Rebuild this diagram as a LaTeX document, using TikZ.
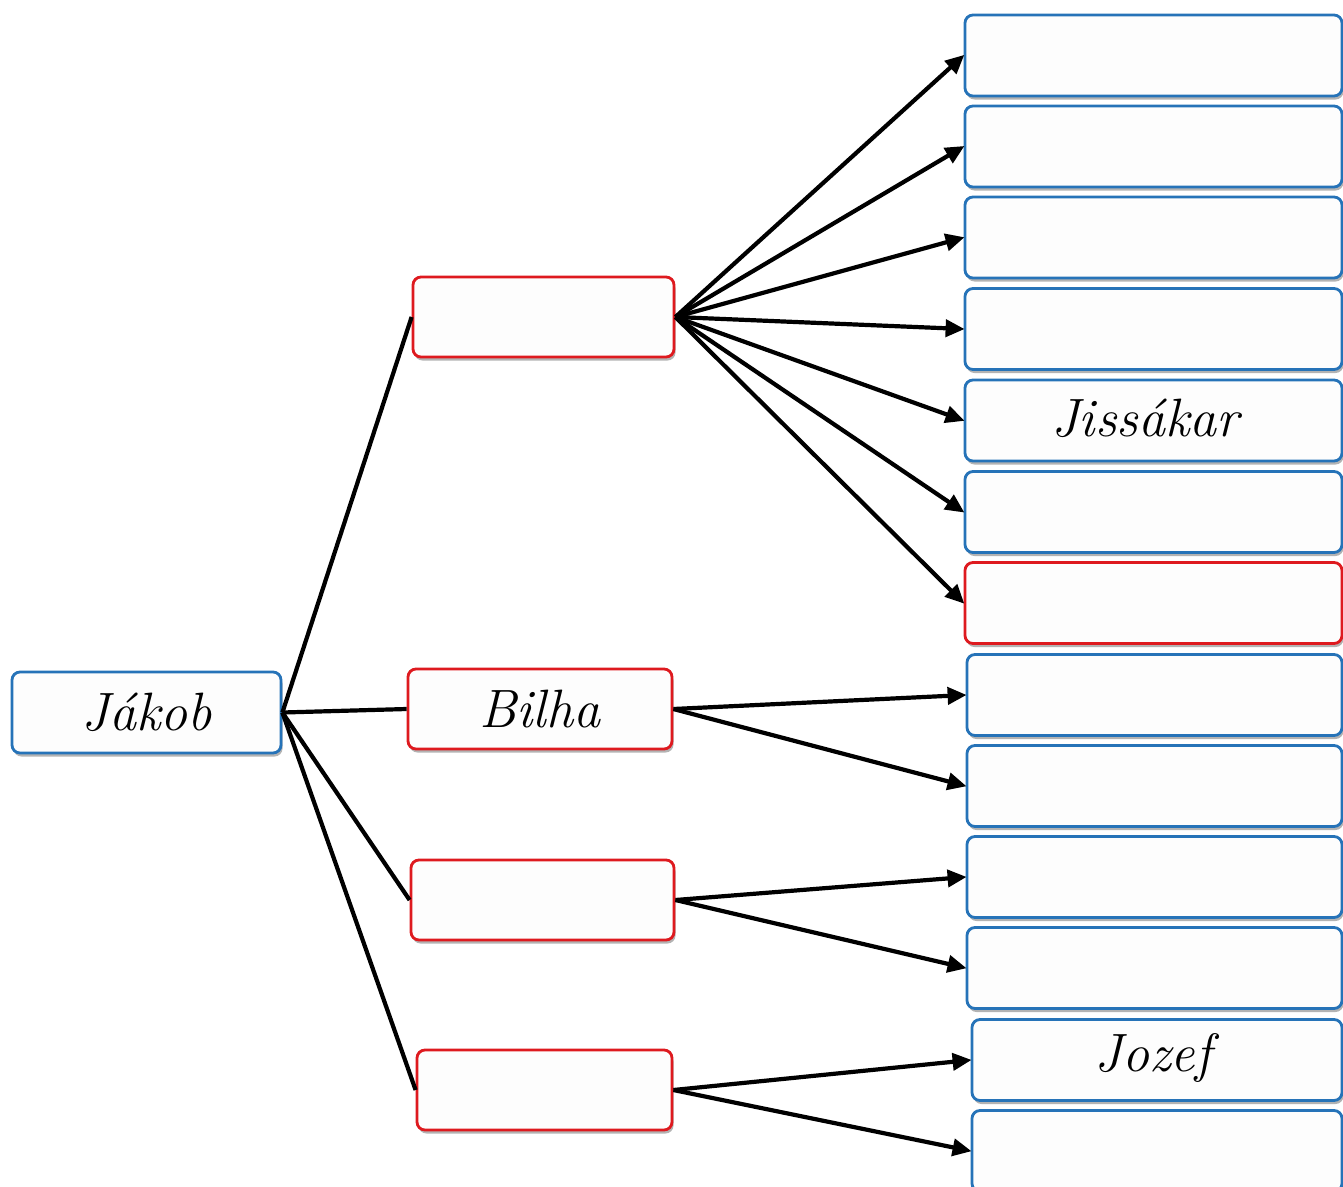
\documentclass[tikz,border=0pt]{standalone}
\usetikzlibrary{arrows.meta,shadows}
\definecolor{bblue}{HTML}{2673B8}
\definecolor{bred}{HTML}{DE1A1F}
\definecolor{bfill}{HTML}{FDFDFD}
\tikzset{
  x=1pt,y=-1pt,
  lbl/.style={font=\fontsize{54}{60}\selectfont\itshape},
  box/.style={draw, line width=2.8pt, rounded corners=8pt, fill=bfill,
    drop shadow={shadow xshift=1.5pt, shadow yshift=-3.5pt, opacity=0.4, fill=black!75},
    inner sep=0pt, lbl},
  bluebox/.style={box, draw=bblue},
  redbox/.style={box, draw=bred},
  midbox/.style={minimum height=80pt},
  rightbox/.style={minimum height=81pt},
  link/.style={line width=4.2pt, black},
  arr/.style={link, -{Triangle[length=19pt,width=17pt]}, shorten >=-1pt},
}
\begin{document}
\begin{tikzpicture}
\useasboundingbox (0,0) rectangle (1343,1186);
\clip (0,0) rectangle (1343,1186);
% root
\node[bluebox, minimum width=269pt, minimum height=81pt] (jakob) at (146.5,712.5) {J\'akob};
% middle column
\node[redbox, midbox, minimum width=261pt] (m1) at (543.5,317) {};
\node[redbox, midbox, minimum width=264pt] (bilha) at (540,709) {Bilha};
\node[redbox, midbox, minimum width=263pt] (m3) at (542.5,900) {};
\node[redbox, midbox, minimum width=255pt] (m4) at (544.5,1090) {};
% right column
\node[bluebox, rightbox, minimum width=377pt] (r1) at (1153.5,55.5) {};
\node[bluebox, rightbox, minimum width=377pt] (r2) at (1153.5,146.5) {};
\node[bluebox, rightbox, minimum width=377pt] (r3) at (1153.5,237.5) {};
\node[bluebox, rightbox, minimum width=377pt] (r4) at (1153.5,329) {};
\node[bluebox, rightbox, minimum width=377pt] (r5) at (1153.5,420.5) {};
\node[bluebox, rightbox, minimum width=377pt] (r6) at (1153.5,512) {};
\node[redbox, rightbox, minimum width=377pt] (r7) at (1153.5,603) {};
\node[bluebox, rightbox, minimum width=375pt] (r8) at (1154.5,695) {};
\node[bluebox, rightbox, minimum width=375pt] (r9) at (1154.5,786) {};
\node[bluebox, rightbox, minimum width=375pt] (r10) at (1154.5,877) {};
\node[bluebox, rightbox, minimum width=375pt] (r11) at (1154.5,968) {};
\node[bluebox, rightbox, minimum width=370pt] (r12) at (1157,1060) {};
\node[bluebox, rightbox, minimum width=370pt] (r13) at (1157,1151) {};
\node[lbl] (t5) at (1145,418) {Jiss\'akar};
\node[lbl] (t12) at (1153,1058) {Jozef};
% root links
\draw[link] (jakob.east) -- (m1.west);
\draw[link] (jakob.east) -- (bilha.west);
\draw[link] (jakob.east) -- (m3.west);
\draw[link] (jakob.east) -- (m4.west);
% arrows
\foreach \t in {r1,r2,r3,r4,r5,r6,r7} \draw[arr] (m1.east) -- (\t.west);
\draw[arr] (bilha.east) -- (r8.west);
\draw[arr] (bilha.east) -- (r9.west);
\draw[arr] (m3.east) -- (r10.west);
\draw[arr] (m3.east) -- (r11.west);
\draw[arr] (m4.east) -- (r12.west);
\draw[arr] (m4.east) -- (r13.west);
\end{tikzpicture}
\end{document}
